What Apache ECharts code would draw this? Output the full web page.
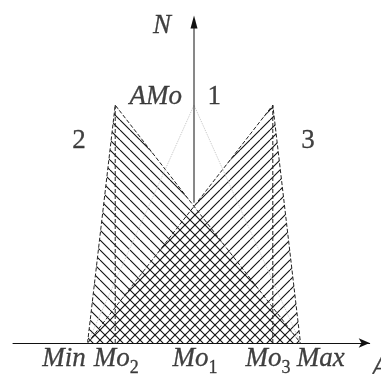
<!DOCTYPE html>
<html>
<head>
<meta charset="utf-8">
<script src="https://cdn.jsdelivr.net/npm/echarts@6/dist/echarts.min.js"></script>
<style>
html, body { margin: 0; padding: 0; background: #fff; }
#chart { width: 381px; height: 374px; }
</style>
</head>
<body>
<div id="chart"></div>
<script>
// 横轴特征点（Mo1 取为原点）
var xMin = -10, xMo2 = -7.4, xMo1 = 0, xMo3 = 7.4, xMax = 10;
var aMo = 10;       // 众数幅度 AMo
var vMeet = 5.9;    // 曲线2、3交叉处，纵轴从这里往上
var yTop = 13.5;    // 纵轴箭头位置

// 三条分布曲线（三角形）
var curve1 = [[xMin, 0], [xMo1, aMo], [xMax, 0]];
var curve2 = [[xMin, 0], [xMo2, aMo], [xMax, 0]];
var curve3 = [[xMin, 0], [xMo3, aMo], [xMax, 0]];
var mo2Line = [[xMo2, 0], [xMo2, aMo]];
var mo3Line = [[xMo3, 0], [xMo3, aMo]];

// 文字 [x, y, 文本]
var tickLabels = [
    [-12.2, -0.68, '{i|Min}'],
    [-7.3, -0.68, '{i|Mo}{s|2}'],
    [0.1, -0.68, '{i|Mo}{s|1}'],
    [6.95, -0.68, '{i|Mo}{s|3}'],
    [11.9, -0.68, '{i|Max}'],
    [17.5, -1.05, '{i|A}']
];
var otherLabels = [
    [-3.0, 13.32, '{i|N}'],
    [-3.6, 10.34, '{i|AMo}'],
    [1.9, 10.34, '{n|1}'],
    [-10.8, 8.49, '{n|2}'],
    [10.7, 8.49, '{n|3}']
];

// 斜线填充图案，dir>0 为 '/'，否则为 '\'
function hatch(dir) {
    var c = document.createElement('canvas');
    c.width = 10;
    c.height = 10;
    var ctx = c.getContext('2d');
    ctx.strokeStyle = '#111';
    ctx.lineWidth = 1.1;
    ctx.beginPath();
    for (var k = -10; k <= 10; k += 10) {
        if (dir > 0) {
            ctx.moveTo(k, 10);
            ctx.lineTo(k + 10, 0);
        } else {
            ctx.moveTo(k, 0);
            ctx.lineTo(k + 10, 10);
        }
    }
    ctx.stroke();
    return c;
}

var edgeStyle = { color: '#222', width: 1, type: [4, 2] };
var heavy = { textBorderColor: '#111', textBorderWidth: 0.3 };

var myChart = echarts.init(document.getElementById('chart'));
var option = {
    animation: false,
    backgroundColor: '#fff',
    grid: { left: 13, right: 11.3, top: 10, bottom: 31, outerBoundsMode: 'none' },
    xAxis: {
        type: 'value',
        min: -17,
        max: 16.5,
        axisLine: {
            onZero: true,
            symbol: ['none', 'arrow'],
            symbolSize: [7, 11],
            lineStyle: { color: '#111', width: 1 }
        },
        axisTick: { show: false },
        axisLabel: { show: false },
        splitLine: { show: false }
    },
    yAxis: {
        type: 'value',
        min: 0,
        max: 14,
        axisLine: { show: false },
        axisTick: { show: false },
        axisLabel: { show: false },
        splitLine: { show: false }
    },
    series: [
        {
            name: '2', type: 'line', data: curve2, showSymbol: false,
            lineStyle: edgeStyle,
            areaStyle: { color: { image: hatch(-1), repeat: 'repeat' }, opacity: 1 }
        },
        {
            name: '3', type: 'line', data: curve3, showSymbol: false,
            lineStyle: edgeStyle,
            areaStyle: { color: { image: hatch(1), repeat: 'repeat' }, opacity: 1 }
        },
        {
            name: '1', type: 'line', data: curve1, showSymbol: false,
            lineStyle: { color: '#c4c4c4', width: 1, type: 'dotted' }
        },
        { type: 'line', data: mo2Line, showSymbol: false, lineStyle: edgeStyle },
        { type: 'line', data: mo3Line, showSymbol: false, lineStyle: edgeStyle },
        {
            // 纵轴 N
            type: 'line',
            data: [
                { value: [0, vMeet], symbol: 'none' },
                { value: [0, yTop], symbol: 'triangle', symbolSize: [7, 13] }
            ],
            lineStyle: { color: '#111', width: 1 },
            itemStyle: { color: '#111' }
        },
        {
            type: 'scatter',
            data: tickLabels.concat(otherLabels),
            symbolSize: 0,
            clip: false,
            silent: true,
            label: {
                show: true,
                position: 'inside',
                color: '#111',
                formatter: function (p) { return p.data[2]; },
                rich: {
                    i: Object.assign({ fontFamily: 'Liberation Serif', fontStyle: 'italic', fontSize: 27, color: '#111', verticalAlign: 'bottom' }, heavy),
                    s: Object.assign({ fontFamily: 'Liberation Serif', fontSize: 18, color: '#111', verticalAlign: 'bottom', padding: [0, 0, -5, 0] }, heavy),
                    n: Object.assign({ fontFamily: 'Liberation Serif', fontSize: 27, color: '#111' }, heavy)
                }
            }
        }
    ]
};
myChart.setOption(option);
</script>
</body>
</html>
